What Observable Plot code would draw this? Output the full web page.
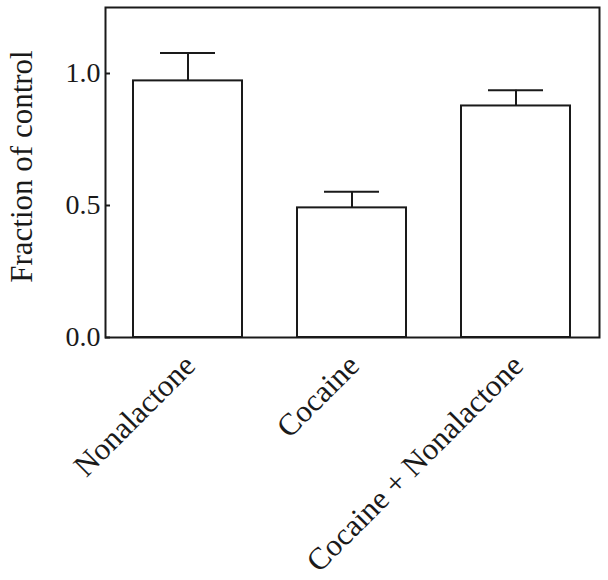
<!DOCTYPE html>
<html>
<head>
<meta charset="utf-8">
<script src="https://cdn.jsdelivr.net/npm/d3@7"></script>
<script src="https://cdn.jsdelivr.net/npm/@observablehq/plot@0.6"></script>
<style>
  html, body { margin: 0; padding: 0; background: #fff; }
  #chart svg { display: block; }
</style>
</head>
<body>
<div id="chart"></div>
<script>
const categories = ["Nonalactone", "Cocaine", "Cocaine + Nonalactone"];
const means = [0.972, 0.491, 0.877];
const sems = [0.106, 0.061, 0.060];
const yTicks = [0, 0.5, 1.0];
const yLabel = "Fraction of control";

const data = categories.map((c, i) => ({cat: c, mean: means[i], top: means[i] + sems[i]}));
const ink = "#1a1a1a";

const chart = Plot.plot({
  width: 608,
  height: 580,
  marginLeft: 105,
  marginRight: 9,
  marginTop: 7,
  marginBottom: 243,
  style: {fontFamily: "'Liberation Serif', 'Times New Roman', serif", fontSize: "28px", color: ink, background: "#fff"},
  x: {domain: categories, paddingInner: 1/3, paddingOuter: 1/6, label: null},
  y: {domain: [0, 1.25], label: null},
  marks: [
    Plot.ruleX(data, {x: "cat", y1: "mean", y2: "top", stroke: ink, strokeWidth: 2}),
    Plot.tickY(data, {x: "cat", y: "top", stroke: ink, strokeWidth: 2, insetLeft: 27, insetRight: 27}),
    Plot.barY(data, {x: "cat", y: "mean", fill: "white", stroke: ink, strokeWidth: 2}),
    Plot.frame({stroke: ink, strokeWidth: 2}),
    Plot.axisY({ticks: yTicks, tickFormat: d3.format(".1f"), tickSize: -5, tickPadding: 10, strokeWidth: 2, fontSize: 28, label: null}),
    Plot.text([yLabel], {frameAnchor: "left", textAnchor: "middle", rotate: -90, dx: -83, dy: -6, fontSize: 31, fill: ink}),
    Plot.axisX({tickSize: 0, tickRotate: -45, tickPadding: 23, dx: 2, fontSize: 31, label: null})
  ]
});
document.getElementById("chart").appendChild(chart);
</script>
</body>
</html>
